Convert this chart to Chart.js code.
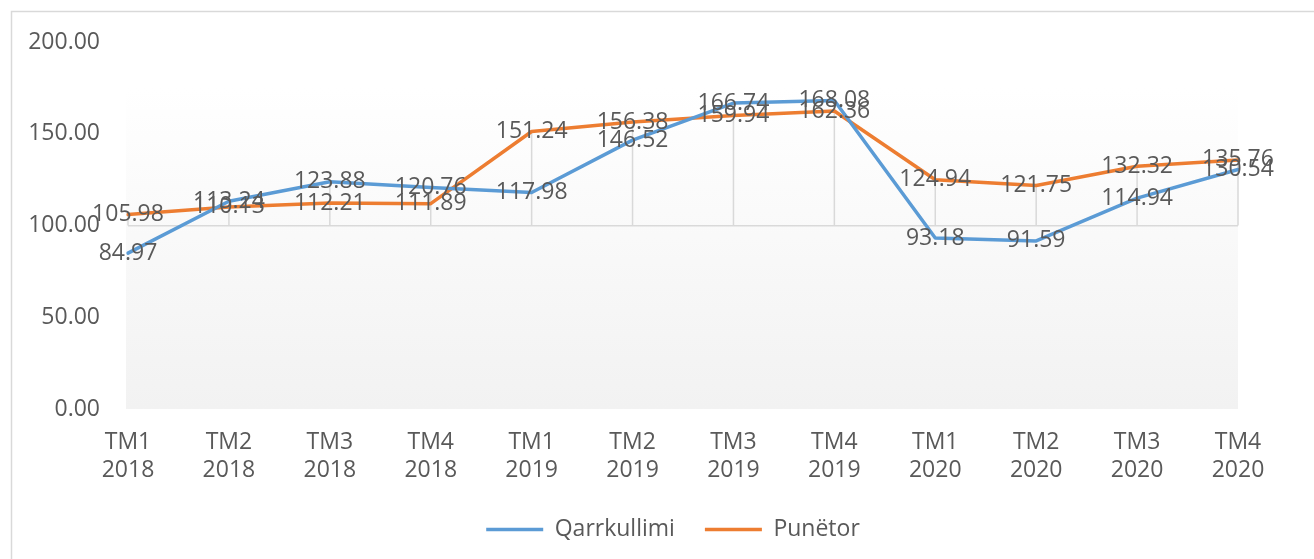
<!DOCTYPE html>
<html>
<head>
<meta charset="utf-8">
<script src="https://cdn.jsdelivr.net/npm/chart.js@4/dist/chart.umd.min.js"></script>
<style>
  body { margin: 0; background: #fff; }
  #wrap { position: absolute; left: 0; top: 0; width: 1314px; height: 559px; }
</style>
</head>
<body>
<div id="wrap"><canvas id="myChart" width="1314" height="559"></canvas></div>
<script>
const quarters = [
  ['TM1', '2018'], ['TM2', '2018'], ['TM3', '2018'], ['TM4', '2018'],
  ['TM1', '2019'], ['TM2', '2019'], ['TM3', '2019'], ['TM4', '2019'],
  ['TM1', '2020'], ['TM2', '2020'], ['TM3', '2020'], ['TM4', '2020'],
];
const qarrkullimi = [84.97, 113.24, 123.88, 120.76, 117.98, 146.52, 166.74, 168.08, 93.18, 91.59, 114.94, 130.54];
const punetor = [105.98, 110.13, 112.21, 111.89, 151.24, 156.38, 159.94, 162.36, 124.94, 121.75, 132.32, 135.76];
const seriesNames = ['Qarrkullimi', 'Punëtor'];
const yTicks = [0, 50, 100, 150, 200];
const axisCross = 100;

const textColor = '#595959';
const fontFamily = '"Open Sans", "DejaVu Sans", sans-serif';

// outer frame + soft gradient behind the plot
const backdrop = {
  id: 'backdrop',
  afterLayout: (chart) => {
    // the original legend is centred on a wider frame than the plot
    chart.legend.left += 48;
    chart.legend.right += 48;
  },
  beforeDraw: (chart) => {
    const { ctx, chartArea, scales } = chart;
    ctx.save();
    ctx.fillStyle = '#fff';
    ctx.fillRect(0, 0, chart.width, chart.height);
    const top = scales.y.getPixelForValue(175);
    const grad = ctx.createLinearGradient(0, top, 0, chartArea.bottom);
    grad.addColorStop(0, '#ffffff');
    grad.addColorStop(1, '#f2f2f2');
    ctx.fillStyle = grad;
    ctx.fillRect(chartArea.left - 2, top, chartArea.right - chartArea.left + 2, chartArea.bottom - top);
    ctx.strokeStyle = '#d9d9d9';
    ctx.lineWidth = 1.5;
    ctx.strokeRect(11.5, 11.5, chart.width + 20, chart.height + 20);
    ctx.restore();
  },
};

// drop lines from the crossing axis up to the higher series
const dropLines = {
  id: 'dropLines',
  beforeDatasetsDraw: (chart) => {
    const { ctx, scales } = chart;
    const base = scales.y.getPixelForValue(axisCross);
    ctx.save();
    ctx.strokeStyle = '#d9d9d9';
    ctx.lineWidth = 1.5;
    quarters.forEach((q, i) => {
      const x = scales.x.getPixelForValue(i);
      const top = scales.y.getPixelForValue(Math.max(qarrkullimi[i], punetor[i], axisCross));
      ctx.beginPath();
      ctx.moveTo(x, base);
      ctx.lineTo(x, top);
      ctx.stroke();
    });
    ctx.restore();
  },
};

// value labels centred on each point
const valueLabels = {
  id: 'valueLabels',
  afterDatasetsDraw: (chart) => {
    const { ctx } = chart;
    ctx.save();
    ctx.font = `23px ${fontFamily}`;
    ctx.fillStyle = textColor;
    ctx.textAlign = 'center';
    ctx.textBaseline = 'middle';
    chart.data.datasets.forEach((ds, di) => {
      const meta = chart.getDatasetMeta(di);
      meta.data.forEach((pt, i) => {
        ctx.fillText(ds.data[i].toFixed(2), pt.x, pt.y);
      });
    });
    ctx.restore();
  },
};

const ctx = document.getElementById('myChart').getContext('2d');
const myChart = new Chart(ctx, {
  type: 'line',
  data: {
    labels: quarters,
    datasets: [
      {
        label: seriesNames[0],
        data: qarrkullimi,
        borderColor: '#5b9bd5',
        backgroundColor: '#5b9bd5',
        borderWidth: 3.5,
        borderCapStyle: 'round',
        borderJoinStyle: 'round',
        pointRadius: 0,
        tension: 0,
      },
      {
        label: seriesNames[1],
        data: punetor,
        borderColor: '#ed7d31',
        backgroundColor: '#ed7d31',
        borderWidth: 3.5,
        borderCapStyle: 'round',
        borderJoinStyle: 'round',
        pointRadius: 0,
        tension: 0,
      },
    ],
  },
  options: {
    responsive: false,
    animation: false,
    layout: { padding: { left: 12, top: 42, right: 76, bottom: 8 } },
    scales: {
      x: {
        offset: false,
        grid: { display: false },
        border: { display: false },
        ticks: {
          autoSkip: false,
          maxRotation: 0,
          padding: 11,
          color: textColor,
          font: { family: fontFamily, size: 23, lineHeight: 1.22 },
        },
        afterFit: (s) => { s.height = 79; },
      },
      y: {
        min: 0,
        max: 200,
        afterBuildTicks: (s) => { s.ticks = yTicks.map((v) => ({ value: v })); },
        grid: {
          drawTicks: false,
          lineWidth: 1.5,
          color: (c) => (c.tick && c.tick.value === axisCross ? '#d9d9d9' : 'rgba(0,0,0,0)'),
        },
        border: { display: false },
        ticks: {
          padding: 28,
          color: textColor,
          font: { family: fontFamily, size: 23 },
          callback: (v) => Number(v).toFixed(2),
        },
        afterFit: (s) => { s.width = 116; },
      },
    },
    plugins: {
      tooltip: { enabled: false },
      legend: {
        position: 'bottom',
        labels: {
          usePointStyle: true,
          pointStyle: 'line',
          pointStyleWidth: 57,
          boxHeight: 23,
          padding: 30,
          color: textColor,
          font: { family: fontFamily, size: 23 },
        },
      },
    },
  },
  plugins: [backdrop, dropLines, valueLabels],
});
console.warn(myChart.chartArea);
</script>
</body>
</html>
